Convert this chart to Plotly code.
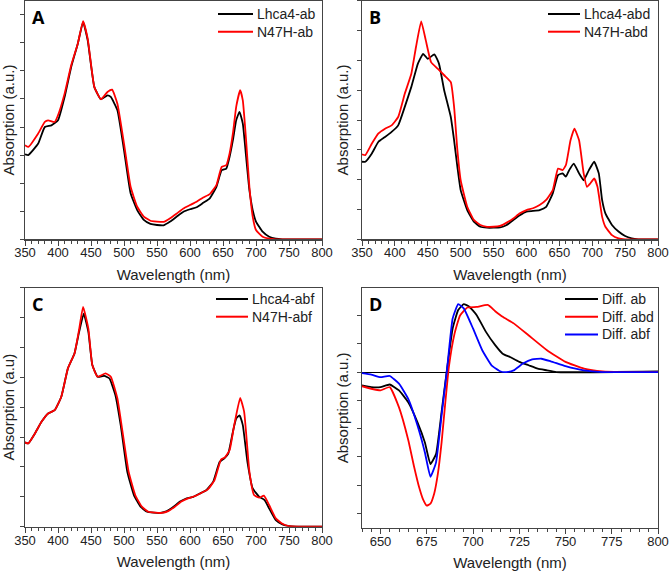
import plotly.graph_objects as go

# ---------------- Data (arbitrary absorption units) ----------------
# Panel A
a_black_x = [350,355,370,380,390,400,410,420,430,438,445,455,465,475,480,490,500,510,520,530,540,550,560,570,580,590,600,610,620,630,640,648,655,660,665,670,675,680,685,690,695,700,710,720,730,740,800]
a_black_y = [3.03,3.0,3.41,4.0,4.06,4.24,5.07,6.14,6.97,7.74,7.09,5.43,4.99,5.13,5.07,4.6,3.18,1.64,1.04,0.69,0.55,0.51,0.5,0.63,0.81,0.98,1.07,1.14,1.3,1.46,1.87,2.46,2.52,2.94,3.53,4.24,4.54,4.12,2.94,1.75,1.04,0.63,0.27,0.09,0.02,0.0,0.0]
a_red_x = [350,355,370,380,385,395,400,410,420,430,438,445,455,465,475,482,490,500,510,520,530,540,550,560,570,580,590,600,610,620,630,640,648,655,660,665,670,676,680,685,690,695,700,710,720,730,800]
a_red_y = [3.35,3.29,3.77,4.18,4.24,4.18,4.42,5.19,6.2,6.97,7.77,7.15,5.43,4.99,5.25,5.33,4.83,3.41,1.87,1.16,0.81,0.66,0.63,0.62,0.75,0.92,1.1,1.22,1.34,1.49,1.61,1.93,2.58,2.64,3.06,3.77,4.72,5.31,4.95,3.53,1.87,0.81,0.33,0.09,0.02,0.0,0.0]

# Panel B
b_black_x = [350,355,365,375,385,395,405,415,425,435,443,450,460,467,475,485,490,495,500,510,520,530,540,550,560,570,580,590,600,610,620,630,640,648,655,660,665,672,680,687,695,703,710,715,720,730,740,750,760,770,800]
b_black_y = [2.6,2.6,2.88,3.27,3.43,3.6,3.82,4.44,5.11,5.89,6.22,6.05,6.2,5.89,4.99,4.1,3.32,2.43,1.65,0.98,0.59,0.42,0.39,0.39,0.4,0.48,0.65,0.81,0.93,0.95,0.98,1.09,1.54,2.15,2.21,2.1,2.32,2.54,2.21,1.98,2.32,2.6,2.21,1.32,0.87,0.48,0.26,0.11,0.03,0.0,0.0]
b_red_x = [350,355,365,375,385,395,405,415,425,432,440,447,455,465,475,485,490,495,500,510,520,530,540,550,560,570,580,590,600,610,620,630,640,648,655,660,667,673,680,687,692,697,703,708,715,720,730,740,750,800]
b_red_y = [2.85,2.82,3.21,3.55,3.71,3.82,4.1,4.88,5.55,6.44,7.31,6.67,5.94,5.72,5.5,5.27,4.44,2.99,1.98,1.09,0.65,0.48,0.42,0.42,0.45,0.56,0.7,0.87,0.98,1.04,1.15,1.32,1.65,2.37,2.32,2.49,3.32,3.71,3.32,2.21,1.76,1.87,2.04,1.76,0.76,0.42,0.14,0.03,0.0,0.0]

# Panel C
c_black_x = [350,355,365,375,385,395,405,415,425,432,439,446,452,460,470,478,487,495,505,515,525,535,545,555,565,575,585,595,605,615,625,635,645,652,658,665,670,675,680,687,695,705,713,720,730,740,750,760,800]
c_black_y = [2.82,2.79,3.12,3.51,3.79,3.9,4.35,5.3,5.8,6.52,7.13,6.52,5.41,5.02,5.05,4.96,4.4,3.4,1.84,1.06,0.67,0.5,0.47,0.46,0.52,0.67,0.84,0.95,1.0,1.11,1.23,1.5,2.17,2.29,2.45,3.18,3.62,3.73,3.4,2.17,1.28,1.0,0.89,0.61,0.22,0.08,0.02,0.0,0.0]
c_red_x = [350,355,365,375,385,395,405,415,425,432,438,446,452,460,472,480,490,497,507,517,527,537,547,557,567,577,587,597,607,617,627,637,647,653,660,667,676,682,690,697,705,712,720,730,740,750,800]
c_red_y = [2.82,2.79,3.12,3.51,3.79,3.9,4.35,5.3,5.8,6.6,7.36,6.63,5.41,5.02,5.13,5.02,4.29,3.29,1.84,1.06,0.67,0.5,0.47,0.46,0.52,0.67,0.84,0.95,1.02,1.13,1.25,1.55,2.25,2.32,2.56,3.4,4.31,3.85,1.84,1.06,0.97,1.04,0.72,0.28,0.1,0.02,0.0]

# Panel D (difference spectra)
d_ab_x = [640,645,650,655,660,665,670,674,677,680,683,686,689,692,695,698,702,707,712,716,720,725,730,735,740,745,800]
d_ab_y = [-0.47,-0.53,-0.53,-0.44,-0.65,-1.07,-1.78,-2.49,-3.25,-2.9,-1.42,0.12,1.54,2.19,2.4,2.31,2.01,1.42,0.95,0.65,0.53,0.36,0.24,0.12,0.06,0.0,0.02]
d_abd_x = [640,645,650,655,660,665,668,671,673,675,677,679,681,683,685,687,690,693,697,702,708,712,716,722,730,740,750,760,770,780,800]
d_abd_y = [-0.5,-0.59,-0.65,-0.53,-1.25,-2.4,-3.3,-4.1,-4.5,-4.72,-4.65,-4.3,-3.6,-2.5,-1.1,0.2,1.35,2.0,2.28,2.3,2.37,2.15,1.95,1.72,1.3,0.77,0.36,0.12,0.02,0.0,0.0]
d_abf_x = [640,645,650,655,660,665,670,674,677,680,683,686,689,692,695,700,705,710,715,718,722,727,732,737,742,750,760,770,800]
d_abf_y = [-0.04,-0.09,-0.18,-0.14,-0.41,-0.95,-1.89,-2.84,-3.7,-3.2,-1.54,0.12,1.89,2.4,2.25,1.54,0.77,0.24,0.02,0.0,0.06,0.3,0.45,0.47,0.38,0.21,0.06,0.0,0.0]

panel_letters = ["A", "B", "C", "D"]
legend_names = [["Lhca4-ab", "N47H-ab"], ["Lhca4-abd", "N47H-abd"],
                ["Lhca4-abf", "N47H-abf"], ["Diff. ab", "Diff. abd", "Diff. abf"]]
y_titles = ["Absorption (a.u.)", "Absorption (a.u.)", "Absorption (a.u)", "Absorption (a.u.)"]
x_title = "Wavelength (nm)"

# ---------------- Layout geometry ----------------
W, H = 670, 571
FONT = "Liberation Sans, Arial, sans-serif"
boxes = {  # left, right, top, bottom in px
    1: (25, 322, 0.7, 239.3),
    2: (362, 658, 0.7, 239.3),
    3: (25, 322, 287.7, 526.7),
    4: (362, 658, 288, 527.7),
}
yranges = {1: [0, 8.5], 2: [0, 8.0], 3: [0, 8.0], 4: [-5.5, 2.97]}

BLACK, RED, BLUE = "#000000", "#ff0000", "#0000ff"
LW = 1.8

# legend placement per panel: line start, line end, first-row y, row step (px)
legend_geom = {1: (218, 253, 14, 17.7), 2: (548, 580, 14, 17.7),
               3: (216, 248, 299, 17.7), 4: (565, 598, 299, 17.7)}

fig = go.Figure()
series = [
    (1, a_black_x, a_black_y, BLACK), (1, a_red_x, a_red_y, RED),
    (2, b_black_x, b_black_y, BLACK), (2, b_red_x, b_red_y, RED),
    (3, c_black_x, c_black_y, BLACK), (3, c_red_x, c_red_y, RED),
    (4, d_ab_x, d_ab_y, BLACK), (4, d_abd_x, d_abd_y, RED), (4, d_abf_x, d_abf_y, BLUE),
]
row_count = {1: 0, 2: 0, 3: 0, 4: 0}
shapes, annotations = [], []
for idx, x, y, color in series:
    name = legend_names[idx - 1][row_count[idx]]
    fig.add_trace(go.Scatter(
        x=x, y=y, name=name, mode="lines", showlegend=False,
        line=dict(color=color, width=LW, shape="spline", smoothing=0.4),
        xaxis="x" if idx == 1 else f"x{idx}",
        yaxis="y" if idx == 1 else f"y{idx}"))
    x0, x1, y0, step = legend_geom[idx]
    yy = y0 + step * row_count[idx]
    shapes.append(dict(type="line", xref="paper", yref="paper",
                       x0=x0 / W, x1=x1 / W, y0=1 - yy / H, y1=1 - yy / H,
                       line=dict(color=color, width=2)))
    annotations.append(dict(text=name, x=(x1 + 2) / W, y=1 - yy / H, xref="paper", yref="paper",
                            xanchor="left", yanchor="middle", showarrow=False,
                            font=dict(size=14, color="#222222", family=FONT)))
    row_count[idx] += 1

layout = dict(
    width=W, height=H,
    margin=dict(l=0, r=0, t=0, b=0, autoexpand=False),
    paper_bgcolor="white", plot_bgcolor="white",
    font=dict(family=FONT, size=13, color="#222222"),
    hovermode=False,
)

AXC = "#444444"
for i in range(1, 5):
    l, r, t, b = boxes[i]
    xk = "xaxis" if i == 1 else f"xaxis{i}"
    yk = "yaxis" if i == 1 else f"yaxis{i}"
    xr = [640, 800] if i == 4 else [350, 800]
    xticks = dict(tick0=650, dtick=25) if i == 4 else dict(tick0=350, dtick=50)
    layout[xk] = dict(
        domain=[l / W, r / W], range=xr, anchor="y" if i == 1 else f"y{i}",
        automargin=False,
        showgrid=False, zeroline=False, showline=True, linecolor=AXC, linewidth=1.2,
        mirror=True, ticks="outside", ticklen=5, tickcolor=AXC, tickwidth=1,
        ticklabelstandoff=-4,
        tickfont=dict(size=13, color="#222222", family=FONT),
        minor=dict(ticks="outside", ticklen=3, tickcolor=AXC, dtick=5 if i == 4 else 10,
                   tick0=640 if i == 4 else 350),
        title=dict(text=x_title, font=dict(size=15, color="#222222", family=FONT), standoff=10),
        tickmode="linear", **xticks)
    layout[yk] = dict(
        domain=[1 - b / H, 1 - t / H], range=yranges[i], anchor="x" if i == 1 else f"x{i}",
        automargin=False,
        showgrid=False, showline=True, linecolor=AXC, linewidth=1.2, mirror=True,
        ticks="outside", ticklen=4, tickcolor=AXC, showticklabels=False,
        tickmode="linear", tick0=0, dtick=1,
        zeroline=(i == 4), zerolinecolor="#000000", zerolinewidth=1,
        title=dict(text=y_titles[i - 1], font=dict(size=15, color="#222222", family=FONT), standoff=4))
    annotations.append(dict(
        text=f"<b>{panel_letters[i - 1]}</b>", x=(l + 5) / W, y=1 - (t + 2) / H,
        xref="paper", yref="paper", xanchor="left", yanchor="top", showarrow=False,
        font=dict(size=18, color="#000000", family="Open Sans, Arial, sans-serif")))

layout["shapes"] = shapes
layout["annotations"] = annotations
fig.update_layout(**layout)
fig.write_html("out.html", config={"displayModeBar": False, "staticPlot": True},
               post_script="document.body.style.margin='0';document.body.style.overflow='hidden';")
